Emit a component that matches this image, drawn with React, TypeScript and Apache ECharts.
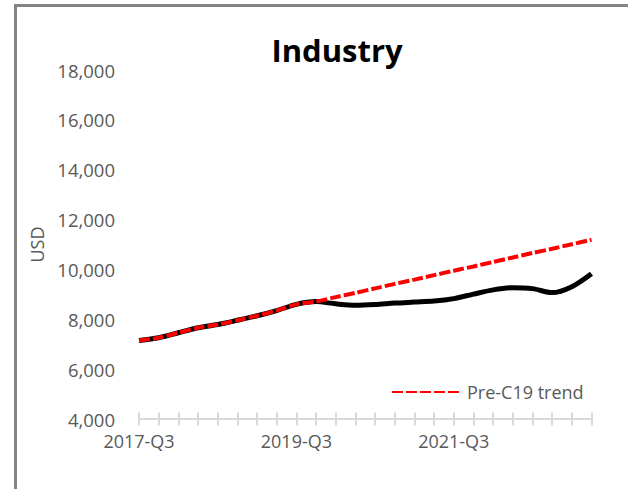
import React, { useEffect, useRef } from 'react';
import * as echarts from 'echarts';

const categories = [
  '2017-Q3', '2017-Q4', '2018-Q1', '2018-Q2', '2018-Q3', '2018-Q4',
  '2019-Q1', '2019-Q2', '2019-Q3', '2019-Q4', '2020-Q1', '2020-Q2',
  '2020-Q3', '2020-Q4', '2021-Q1', '2021-Q2', '2021-Q3', '2021-Q4',
  '2022-Q1', '2022-Q2', '2022-Q3', '2022-Q4', '2023-Q1', '2023-Q2',
];

const actualValues = [
  7150, 7260, 7460, 7660, 7790, 7960, 8140, 8350, 8600, 8710, 8620, 8560,
  8590, 8650, 8690, 8730, 8830, 9010, 9180, 9270, 9230, 9070, 9310, 9830,
];

const trendValues = [
  7150, 7260, 7460, 7660, 7790, 7960, 8140, 8350, 8600, 8710, 8890, 9060,
  9240, 9420, 9590, 9770, 9950, 10120, 10300, 10480, 10660, 10830, 11010, 11190,
];

const yTicks = { min: 4000, max: 18000, interval: 2000 };

const FONT = 'Open Sans';

export default function App() {
  const ref = useRef<HTMLDivElement>(null);

  useEffect(() => {
    const chart = echarts.init(ref.current!, null, { renderer: 'svg' });
    chart.setOption({
      animation: false,
      backgroundColor: '#ffffff',
      textStyle: { fontFamily: FONT },
      title: {
        text: 'Industry',
        left: 332,
        top: 29,
        textAlign: 'center',
        textStyle: { fontFamily: FONT, fontSize: 31, fontWeight: 'bold', color: '#000000' },
      },
      legend: {
        data: ['Pre-C19 trend'],
        left: 386,
        top: 378,
        itemWidth: 70,
        itemHeight: 14,
        itemStyle: { opacity: 0 },
        textStyle: { fontFamily: FONT, fontSize: 18, color: '#595959' },
      },
      grid: { left: 139, right: 36.5, top: 70, bottom: 70, containLabel: false },
      xAxis: [
        {
          type: 'category',
          data: categories,
          boundaryGap: false,
          position: 'bottom',
          axisLine: { show: true, lineStyle: { color: '#d9d9d9', width: 2 } },
          axisTick: { show: true, interval: 0, length: 6.5, lineStyle: { color: '#d9d9d9', width: 2 } },
          axisLabel: {
            interval: 7,
            margin: 13,
            fontFamily: FONT,
            fontSize: 18,
            color: '#595959',
          },
          splitLine: { show: false },
        },
        {
          type: 'category',
          data: categories,
          boundaryGap: false,
          position: 'bottom',
          axisLine: { show: false },
          axisTick: { show: true, inside: true, interval: 0, length: 6.5, lineStyle: { color: '#d9d9d9', width: 2 } },
          axisLabel: { show: false },
          splitLine: { show: false },
        },
      ],
      yAxis: {
        type: 'value',
        min: yTicks.min,
        max: yTicks.max,
        interval: yTicks.interval,
        name: 'USD',
        nameLocation: 'middle',
        nameGap: 93,
        nameTextStyle: { fontFamily: FONT, fontSize: 18, color: '#595959' },
        axisLine: { show: false },
        axisTick: { show: false },
        splitLine: { show: false },
        axisLabel: {
          margin: 24,
          fontFamily: FONT,
          fontSize: 18.5,
          color: '#595959',
          formatter: (v: number) => v.toLocaleString('en-US'),
        },
      },
      graphic: [
        {
          type: 'polyline',
          shape: { points: [[15.5, 489], [15.5, 5.5], [628, 5.5]] },
          style: { stroke: '#858585', lineWidth: 3, fill: 'none' },
          silent: true,
        },
      ],
      series: [
        {
          name: 'Industry',
          type: 'line',
          xAxisIndex: 0,
          data: actualValues,
          smooth: 0.3,
          symbol: 'none',
          lineStyle: { color: '#000000', width: 5 },
          itemStyle: { color: '#000000' },
          z: 2,
        },
        {
          name: 'Pre-C19 trend',
          type: 'line',
          xAxisIndex: 0,
          data: trendValues,
          smooth: 0.3,
          symbol: 'none',
          lineStyle: { color: '#ff0000', width: 4, type: [11, 3] },
          itemStyle: { color: '#ff0000' },
          z: 3,
        },
      ],
    });
    return () => chart.dispose();
  }, []);

  return (
    <div
      ref={ref}
      style={{ position: 'fixed', left: 0, top: 0, width: 628, height: 489, background: '#ffffff' }}
    />
  );
}
